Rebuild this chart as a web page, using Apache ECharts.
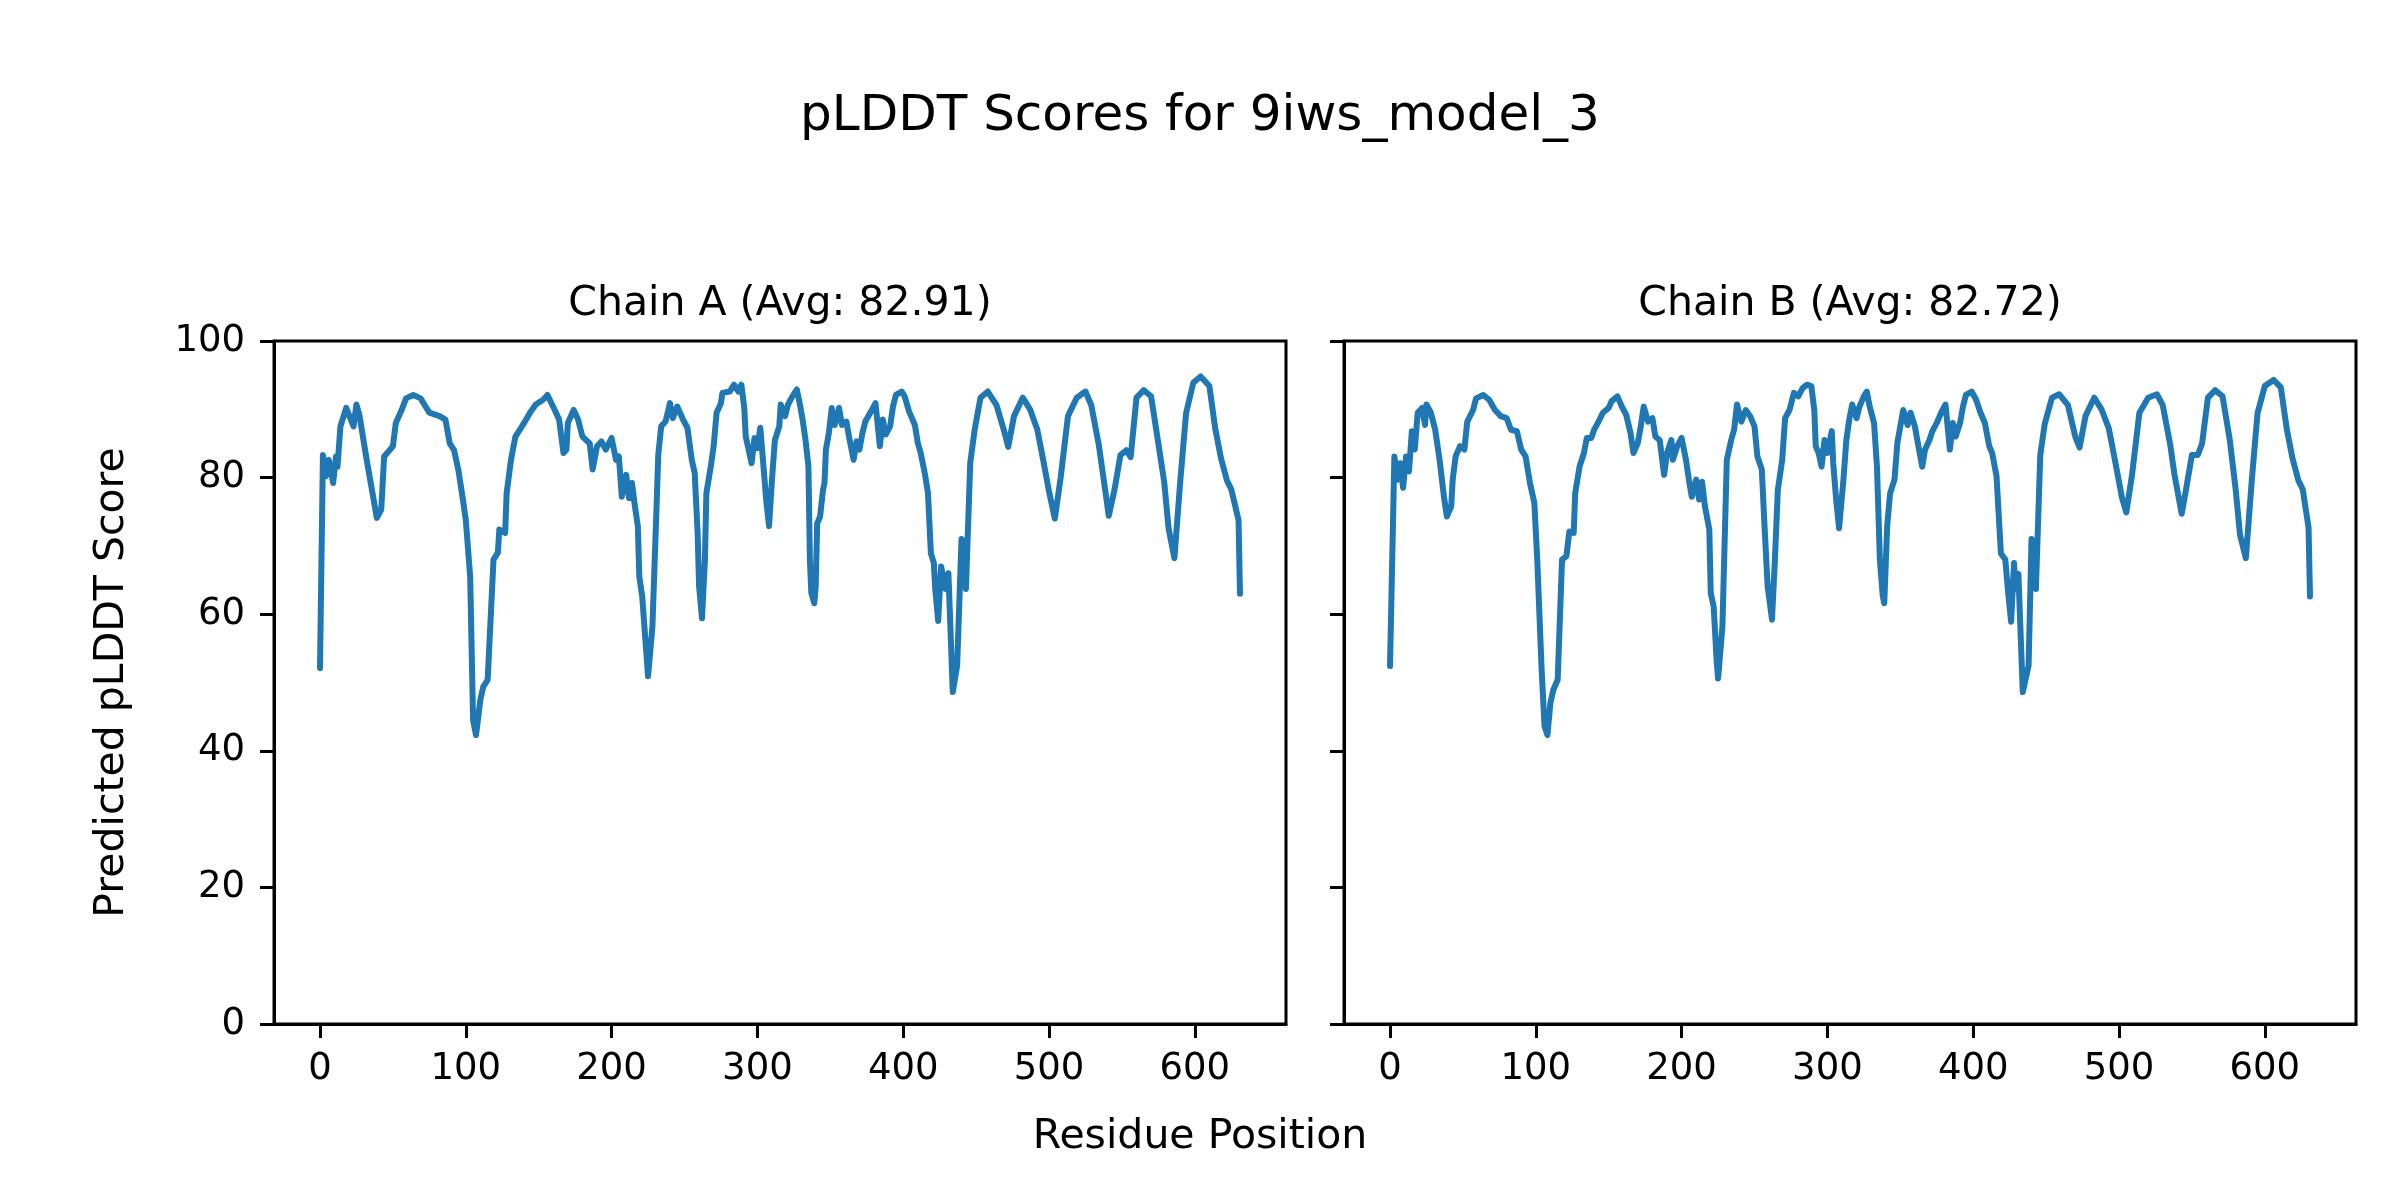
<!DOCTYPE html>
<html>
<head>
<meta charset="utf-8">
<script src="https://cdn.jsdelivr.net/npm/echarts@6/dist/echarts.min.js"></script>
<style>
html,body{margin:0;padding:0;background:#fff;}
#chart{width:2400px;height:1200px;}
</style>
</head>
<body>
<div id="chart"></div>
<script>
// ---- Data ----
const figureTitle = 'pLDDT Scores for 9iws_model_3';
const chainTitles = ['Chain A (Avg: 82.91)', 'Chain B (Avg: 82.72)'];
const xTickValues = [0, 100, 200, 300, 400, 500, 600];
const yTickValues = [0, 20, 40, 60, 80, 100];

const chainAResidues = [0,2,4,6,9,11,12,14,18,23,25,27,32,39,42,44,50,52,56,59,64,69,75,82,86,89,92,95,98,100,103,105,107,110,112,115,119,122,123,127,128,131,134,137,140,144,148,153,156,161,164,167,169,170,174,177,180,185,187,190,193,196,200,203,205,207,210,212,214,216,218,219,221,225,228,231,232,234,237,240,242,245,249,252,255,257,259,260,262,264,265,268,270,272,275,276,281,284,287,289,291,292,294,296,298,300,302,304,306,308,310,312,315,316,319,321,324,327,329,331,333,335,336,337,339,340,341,343,345,346,347,349,351,353,356,358,361,363,366,368,370,372,374,378,381,384,386,388,391,393,395,399,401,404,408,410,412,415,417,419,421,422,424,426,429,431,434,437,440,442,443,446,449,453,458,464,469,472,476,482,487,492,496,500,504,508,513,519,525,529,534,537,541,545,549,553,556,560,565,570,575,579,582,586,590,594,599,604,610,614,618,622,625,630,631];
const chainAScores = [52.1,83.3,80.2,82.6,79.2,83.1,81.6,87.5,90.2,87.5,90.7,89.2,82.6,74.1,75.3,83.1,84.6,88,89.9,91.6,92.1,91.6,89.5,89,88.5,85,84,81,76.8,73.8,65.5,44.5,42.3,47.5,49.4,50.4,68,69,72.4,71.9,77.7,82.6,86,87,88,89.5,90.7,91.4,92.1,89.9,88.5,83.6,84.1,88,89.9,88.5,86,85,81.2,84.6,85.3,84.1,85.8,82.6,83.1,77.2,80.4,77,79.2,75.8,72.9,65.5,62.6,50.9,58.2,76.8,83.3,87.5,88.2,90.9,88.7,90.4,88.5,87.3,82.6,80.7,71.9,64.1,59.4,68,77.7,81.6,84.6,89.5,90.9,92.4,92.6,93.6,92.6,93.6,90.2,86,84.1,82.1,85.8,84.3,87.3,82.1,76.8,72.9,79.7,85.5,87.5,90.7,89,90.7,91.9,92.9,90.9,88.5,85.5,81.6,68,63.1,61.6,64.1,73.3,74.3,78.2,79.2,84.1,86.5,90.2,87.7,90.2,87.7,88.2,85.8,82.6,85.3,84.1,86.5,88.2,89.7,90.9,84.6,88.5,86.3,87.5,90.4,92.1,92.6,91.9,89.7,87.7,85.1,83.6,80.4,77.7,68.9,67.5,63.6,59,67,63.7,66,48.6,52.5,71,70.5,63.7,82.2,87,91.7,92.6,90.6,87,84.5,89,91.7,90,87,82.6,78,74,80,89,91.7,92.6,90.6,85,80.5,74.4,78.3,83.3,84,83,91.7,92.8,91.9,85,79.4,72.6,68.2,79.4,89.4,93.9,94.8,93.4,87.2,82.8,79.6,78.3,73.8,63];

const chainBResidues = [0,3,5,7,9,11,13,15,17,19,22,24,25,28,31,34,37,39,42,43,45,48,51,53,57,59,64,68,72,76,80,83,87,90,93,96,99,101,104,106,108,110,112,115,118,121,123,126,127,130,133,135,138,140,143,146,150,152,156,159,162,165,167,170,172,174,177,180,182,185,188,190,193,194,197,200,203,205,207,210,212,214,216,219,220,222,224,225,228,231,234,236,238,241,244,247,250,252,255,257,259,262,264,266,269,271,274,277,280,283,286,289,291,292,294,296,298,300,303,304,306,308,311,313,315,317,320,322,325,327,329,332,334,336,338,339,341,343,346,348,350,352,355,357,360,362,365,367,370,372,375,378,381,384,386,388,391,393,395,399,402,405,408,411,413,416,419,422,424,426,428,429,431,434,438,440,442,443,446,449,454,459,465,470,473,477,483,488,493,497,502,505,509,514,520,526,530,535,538,543,546,550,554,557,561,566,571,576,580,583,587,591,595,600,606,611,615,619,623,626,630,631];
const chainBScores = [52.4,83.1,79.7,82.1,78.5,83.1,80.9,86.8,84.1,89.5,90.2,87.7,90.7,89.5,87,82.6,77.2,74.3,75.8,79.7,83.1,84.6,84.1,88.2,89.9,91.6,92.1,91.4,89.9,89,88.7,87,86.8,84.1,83.1,79.2,76.3,68,51.9,43.6,42.3,47,48.9,50.4,68,68.5,72.1,71.9,77.7,81.6,83.6,85.8,85.8,87,88.2,89.5,90.2,91.2,91.9,90.4,89.2,86.5,83.6,85.1,87.5,90.4,88.2,88.7,86,85.5,80.4,83.6,85.5,82.6,84.6,85.8,82.6,79.7,77.2,79.7,76.8,79.4,75.8,72.4,63.1,61.1,53.3,50.6,58.2,82.6,85.5,87,90.7,88.2,89.9,89,87.5,83.1,81.2,72.4,64.1,59.2,68,78.2,82.6,88.7,89.9,92.4,91.9,93.1,93.6,93.4,89.9,84.6,83.6,81.6,85.5,83.6,86.8,82.1,76.8,72.6,79.7,85.5,88.5,90.7,88.7,90.4,91.9,92.6,90.4,88,81.6,68,62.6,61.6,72.9,77.7,79.7,85.1,87.5,89.9,87.7,89.5,87.5,85.1,81.6,84.1,85.5,86.8,88,89.5,90.7,84.1,88,86,88,90.4,92.1,92.6,91.4,89.5,88,84.6,83.6,80.2,68.9,68,63.1,58.9,67.5,63.7,65.9,48.6,52.5,71,70.5,63.7,83.3,87.8,91.7,92.2,90.6,86,84.4,89,91.7,90,87.2,82.8,77.1,74.9,80.5,89.5,91.7,92.2,90.6,85,80.5,74.7,78.3,83.3,83.3,85,91.7,92.8,91.9,85.5,78.3,71.6,68.2,79.4,89.4,93.4,94.3,93.2,87.2,82.8,79.6,78.3,72.7,62.6];

const xLabelText = 'Residue Position';
const yLabelText = 'Predicted pLDDT Score';

// ---- Build options ----
const FONT = 'DejaVu Sans';
const BLUE = '#1f77b4';
function pairs(xs, ys) { return xs.map((x, i) => [x, ys[i]]); }

const gridBox = [
  { left: 274, top: 341, width: 1012, height: 683 },
  { left: 1344, top: 341, width: 1012, height: 683 }
];

function xAxisFor(i) {
  return {
    type: 'value', gridIndex: i, min: -31.55, max: 662.55,
    splitLine: { show: false },
    axisLine: { show: true, onZero: false, lineStyle: { color: '#000', width: 3 } },
    axisTick: { show: true, inside: false, length: 14, customValues: xTickValues, lineStyle: { color: '#000', width: 3 } },
    axisLabel: { show: true, customValues: xTickValues, margin: 27, fontSize: 37, fontFamily: FONT, color: '#000' }
  };
}
function yAxisFor(i) {
  const ax = {
    type: 'value', gridIndex: i, min: 0, max: 100, interval: 20,
    splitLine: { show: false },
    axisLine: { show: true, onZero: false, lineStyle: { color: '#000', width: 3 } },
    axisTick: { show: true, inside: false, length: 14, customValues: yTickValues, lineStyle: { color: '#000', width: 3 } },
    axisLabel: { show: i === 0, customValues: yTickValues, margin: 29, fontSize: 37, fontFamily: FONT, color: '#000' }
  };
  if (i === 0) {
    ax.name = yLabelText;
    ax.nameLocation = 'middle';
    ax.nameGap = 141;
    ax.nameRotate = 90;
    ax.nameTextStyle = { fontSize: 41, fontFamily: FONT, color: '#000' };
  }
  return ax;
}

const option = {
  animation: false,
  backgroundColor: '#fff',
  title: [
    { text: figureTitle, left: 'center', top: 92, padding: 0,
      textStyle: { fontSize: 50, fontWeight: 'normal', fontFamily: FONT, color: '#000' } }
  ],
  graphic: [
    { type: 'text', x: gridBox[0].left + gridBox[0].width / 2, y: 304,
      style: { text: chainTitles[0], fontSize: 41, fontFamily: FONT, fill: '#000', textAlign: 'center', textVerticalAlign: 'middle' } },
    { type: 'text', x: gridBox[1].left + gridBox[1].width / 2, y: 304,
      style: { text: chainTitles[1], fontSize: 41, fontFamily: FONT, fill: '#000', textAlign: 'center', textVerticalAlign: 'middle' } },
    { type: 'text', x: 1200, y: 1137,
      style: { text: xLabelText, fontSize: 41, fontFamily: FONT, fill: '#000', textAlign: 'center', textVerticalAlign: 'middle' } }
  ],
  grid: gridBox.map(g => Object.assign({ show: true, borderColor: '#000', borderWidth: 3, backgroundColor: 'transparent', containLabel: false }, g)),
  xAxis: [xAxisFor(0), xAxisFor(1)],
  yAxis: [yAxisFor(0), yAxisFor(1)],
  series: [
    { name: 'Chain A', type: 'line', xAxisIndex: 0, yAxisIndex: 0, data: pairs(chainAResidues, chainAScores),
      showSymbol: false, symbol: 'none', lineStyle: { color: BLUE, width: 6, join: 'round', cap: 'round' } },
    { name: 'Chain B', type: 'line', xAxisIndex: 1, yAxisIndex: 1, data: pairs(chainBResidues, chainBScores),
      showSymbol: false, symbol: 'none', lineStyle: { color: BLUE, width: 6, join: 'round', cap: 'round' } }
  ]
};

const chart = echarts.init(document.getElementById('chart'), null, { width: 2400, height: 1200, renderer: 'canvas' });
chart.setOption(option);
</script>
</body>
</html>
